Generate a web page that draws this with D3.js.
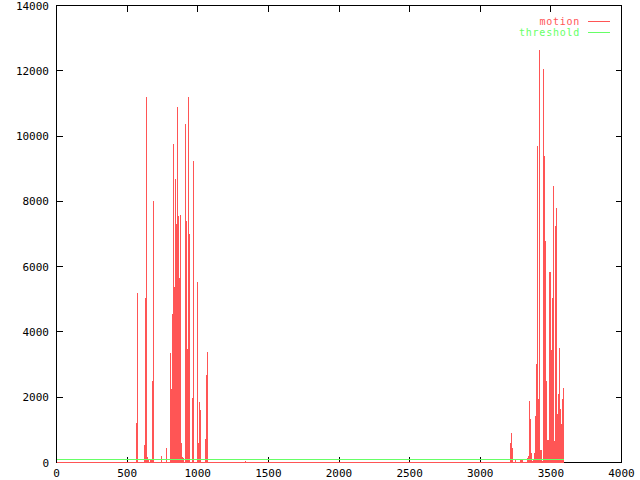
<!DOCTYPE html>
<html><head><meta charset="utf-8">
<script src="https://cdn.jsdelivr.net/npm/d3@7"></script>
<style>
html,body{margin:0;padding:0;background:#fff;}
svg{display:block;}
text{font-family:"DejaVu Sans Mono","Liberation Mono",monospace;font-size:11px;}
text.leg{font-size:10px;letter-spacing:0.75px;}
</style></head>
<body>
<script>
// ---- data ----
const xTicks = [0, 500, 1000, 1500, 2000, 2500, 3000, 3500, 4000];
const yTicks = [0, 2000, 4000, 6000, 8000, 10000, 12000, 14000];
const seriesNames = ["motion", "threshold"];
const seriesStart = 0, seriesEnd = 3595;
const thresholdValue = 100;
// motion samples (seconds, value); all other samples are 0
const seconds = [566,573,623,630,637,644,651,665,673,680,687,743,779,807,814,821,828,835,842,850,857,864,871,878,885,892,899,913,920,927,934,942,963,970,998,1005,1012,1019,1055,1062,1069,1338,
 3214,3221,3228,3250,3285,3292,3299,3334,3342,3349,3356,3363,3370,3377,3384,3391,3398,3405,3412,3419,3426,3434,3441,3448,3455,3462,3469,3476,3483,3490,3497,3504,3511,3519,3526,3533,3540,3547,3554,3561,3568,3575,3582,3589];
const motion = [1216,5200,533,5030,11200,175,80,80,80,2500,8000,196,441,3360,2257,4545,9752,5381,8680,7302,10895,7556,5657,7577,585,175,150,10374,7393,3464,11200,6995,1972,9241,5535,603,1850,1605,726,2686,3390,35,
 600,900,450,80,80,80,80,140,200,1880,1320,300,60,100,300,1420,3030,9690,1950,12650,380,380,50,12040,9385,6780,2490,690,700,5830,5830,3440,5045,8470,665,7240,7790,1500,2100,3500,1640,1180,1940,2280];

const W = 640, H = 480;
const red = "#ff5555", green = "#66ff66";
const svg = d3.select("body").append("svg").attr("width", W).attr("height", H);

const x = d3.scaleLinear().domain([0, 4000]).range([56.5, 621.5]);
const y = d3.scaleLinear().domain([0, 14000]).range([462.5, 5.5]);

// border
svg.append("rect").attr("x", 56.5).attr("y", 5.5).attr("width", 565).attr("height", 457)
  .attr("fill", "none").attr("stroke", "#000").attr("stroke-width", 1);

// ticks (inward, mirrored)
const tl = 6;
const g = svg.append("g").attr("stroke", "#000").attr("stroke-width", 1).attr("shape-rendering", "crispEdges");
xTicks.forEach(t => {
  const px = Math.round(x(t) - 0.5) + 0.5;
  g.append("line").attr("x1", px).attr("x2", px).attr("y1", 462.5).attr("y2", 462.5 - tl);
  g.append("line").attr("x1", px).attr("x2", px).attr("y1", 5.5).attr("y2", 5.5 + tl);
});
yTicks.forEach(t => {
  const py = Math.round(y(t) - 0.5) + 0.5;
  g.append("line").attr("x1", 56.5).attr("x2", 56.5 + tl).attr("y1", py).attr("y2", py);
  g.append("line").attr("x1", 621.5).attr("x2", 621.5 - tl).attr("y1", py).attr("y2", py);
});
// tick labels
xTicks.forEach(t => {
  svg.append("text").attr("x", x(t)).attr("y", 477).attr("text-anchor", "middle").text(t);
});
yTicks.forEach(t => {
  svg.append("text").attr("x", 49).attr("y", y(t) + 4).attr("text-anchor", "end").text(t);
});

// motion: impulses + baseline
const data = seconds.map((s, i) => ({t: s, v: motion[i]}));
const mg = svg.append("g").attr("stroke", red).attr("stroke-width", 1).attr("shape-rendering", "crispEdges");
mg.selectAll("line.imp").data(data).enter().append("line")
  .attr("x1", d => Math.floor(x(d.t)) + 0.5).attr("x2", d => Math.floor(x(d.t)) + 0.5)
  .attr("y1", y(0)).attr("y2", d => y(d.v));
const baseline = d3.line().x(d => x(d.t)).y(d => y(d.v));
mg.append("path").attr("fill", "none")
  .attr("d", baseline([{t: seriesStart, v: 0}, {t: seriesEnd, v: 0}]));

// threshold
const thr = [{t: seriesStart, v: thresholdValue}, {t: seriesEnd, v: thresholdValue}];
svg.append("path").attr("fill", "none").attr("stroke", green).attr("stroke-width", 1)
  .attr("shape-rendering", "crispEdges")
  .attr("d", d3.line().x(d => x(d.t)).y(d => Math.round(y(d.v) - 0.5) + 0.5)(thr));

// legend
const legColors = [red, green];
seriesNames.forEach((n, i) => {
  const ly = 21.5 + i * 11;
  svg.append("text").attr("class", "leg").attr("x", 580).attr("y", ly + 3.5).attr("text-anchor", "end")
    .attr("fill", legColors[i]).text(n);
  svg.append("line").attr("x1", 588).attr("x2", 610).attr("y1", ly).attr("y2", ly)
    .attr("stroke", legColors[i]).attr("stroke-width", 1).attr("shape-rendering", "crispEdges");
});
</script>
</body></html>
